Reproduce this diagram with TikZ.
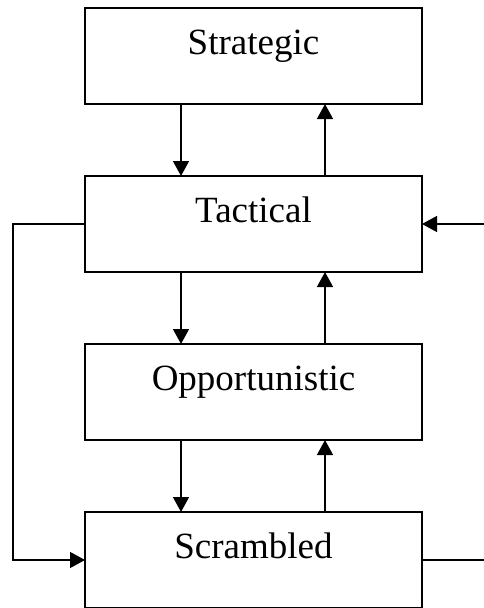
\documentclass[tikz,border=0pt]{standalone}
\usepackage{fontspec}
\setmainfont{Liberation Serif}
\usetikzlibrary{arrows.meta}
\begin{document}
\begin{tikzpicture}[x=1pt,y=-1pt,
  lvl/.style={draw,line width=1.3pt,rectangle,inner sep=0pt,outer sep=0pt,minimum width=337pt,
    text height=46pt,text depth=50pt,anchor=north,font=\fontsize{37}{40}\selectfont},
  arr/.style={line width=1.3pt,-{Triangle[width=16pt,length=15pt]}},
  ln/.style={line width=1.3pt}]
\useasboundingbox (0,0) rectangle (483,608);
\node[lvl] (s) at (253.5,8) {Strategic};
\node[lvl] (t) at (253.5,176) {Tactical};
\node[lvl] (o) at (253.5,344) {Opportunistic};
\node[lvl] (c) at (253.5,512) {Scrambled};
\coordinate (dl) at (181,0);
\coordinate (ul) at (325,0);
\coordinate (lx) at (13,0);
\coordinate (rx) at (484,0);
\coordinate (rin) at (t.east -| rx);
\coordinate (rout) at (c.east -| rx);
\foreach \a/\b in {s/t,t/o,o/c}{
  \draw[arr] (\a.south -| dl) -- (\b.north -| dl);
  \draw[arr] (\b.north -| ul) -- (\a.south -| ul);
}
\draw[arr] (t.west) -- (t.west -| lx) -- (c.west -| lx) -- (c.west);
\draw[arr] (rin) -- (t.east);
\draw[ln] (c.east) -- (rout);
\end{tikzpicture}
\end{document}
